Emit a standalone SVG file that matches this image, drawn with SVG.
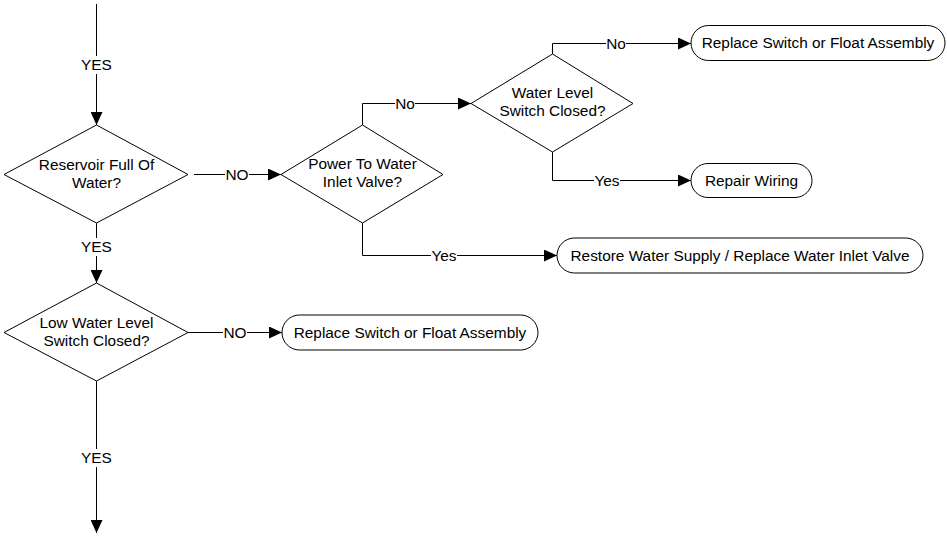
<svg xmlns="http://www.w3.org/2000/svg" width="947" height="537" viewBox="0 0 947 537">
<defs>
<marker id="arr" markerUnits="userSpaceOnUse" markerWidth="14" markerHeight="12" refX="13" refY="6" orient="auto">
<path d="M0,0 L13,6 L0,12 z" fill="#000"/>
</marker>
<style>
.shape{fill:#fff;stroke:#000;stroke-width:1}
.line{fill:none;stroke:#000;stroke-width:1}
text{font-family:"Liberation Sans",Arial,sans-serif;font-size:15.4px;fill:#000;text-anchor:middle}
.lbl{fill:#fff;stroke:none}
</style>
</defs>
<rect width="947" height="537" fill="#fff"/>
<g id="connectors">
<path class="line" d="M96.5,4 V125" marker-end="url(#arr)"/>
<rect class="lbl" x="80" y="56" width="33" height="18"/>
<text x="96.5" y="70">YES</text>

<path class="line" d="M194,174.5 H281" marker-end="url(#arr)"/>
<rect class="lbl" x="225" y="166" width="24" height="18"/>
<text x="237" y="180">NO</text>

<path class="line" d="M362.5,125 V103.5 H471" marker-end="url(#arr)"/>
<rect class="lbl" x="395" y="95" width="20" height="18"/>
<text x="405" y="109">No</text>

<path class="line" d="M552.5,54 V43.5 H691" marker-end="url(#arr)"/>
<rect class="lbl" x="606" y="35" width="20" height="18"/>
<text x="616" y="49">No</text>

<path class="line" d="M552.5,152 V180.5 H691" marker-end="url(#arr)"/>
<rect class="lbl" x="594" y="172" width="26" height="18"/>
<text x="607" y="186">Yes</text>

<path class="line" d="M362.5,223 V255.5 H557" marker-end="url(#arr)"/>
<rect class="lbl" x="431" y="247" width="26" height="18"/>
<text x="444" y="261">Yes</text>

<path class="line" d="M96.5,223 V283" marker-end="url(#arr)"/>
<rect class="lbl" x="80" y="238" width="33" height="18"/>
<text x="96.5" y="252">YES</text>

<path class="line" d="M188,332.5 H282" marker-end="url(#arr)"/>
<rect class="lbl" x="223" y="324" width="24" height="18"/>
<text x="235" y="338">NO</text>

<path class="line" d="M96.5,381 V533" marker-end="url(#arr)"/>
<rect class="lbl" x="80" y="449" width="33" height="18"/>
<text x="96.5" y="463">YES</text>
</g>

<g id="reservoir-full">
<polygon class="shape" points="96.5,125 188,174.5 96.5,223 4,174.5"/>
<text x="96.5" y="170">Reservoir Full Of</text>
<text x="96.5" y="188">Water?</text>
</g>
<g id="power-inlet-valve">
<polygon class="shape" points="362.5,125 443,174.5 362.5,223 281,174.5"/>
<text x="362.5" y="169">Power To Water</text>
<text x="362.5" y="187">Inlet Valve?</text>
</g>
<g id="water-level-switch">
<polygon class="shape" points="552.5,54 633,103.5 552.5,152 471,103.5"/>
<text x="552.5" y="98">Water Level</text>
<text x="552.5" y="116">Switch Closed?</text>
</g>
<g id="replace-switch-1">
<rect class="shape" x="691" y="25.5" width="254" height="35" rx="17.5"/>
<text x="818" y="48">Replace Switch or Float Assembly</text>
</g>
<g id="repair-wiring">
<rect class="shape" x="691" y="163.5" width="121" height="34" rx="17"/>
<text x="751.5" y="186">Repair Wiring</text>
</g>
<g id="restore-water">
<rect class="shape" x="557" y="238" width="366" height="35" rx="17.5"/>
<text x="740" y="261">Restore Water Supply / Replace Water Inlet Valve</text>
</g>
<g id="low-water-level">
<polygon class="shape" points="96.5,283 188,332.5 96.5,381 4,332.5"/>
<text x="96.5" y="328">Low Water Level</text>
<text x="96.5" y="346">Switch Closed?</text>
</g>
<g id="replace-switch-2">
<rect class="shape" x="282" y="315" width="256" height="35" rx="17.5"/>
<text x="410" y="338">Replace Switch or Float Assembly</text>
</g>
</svg>
